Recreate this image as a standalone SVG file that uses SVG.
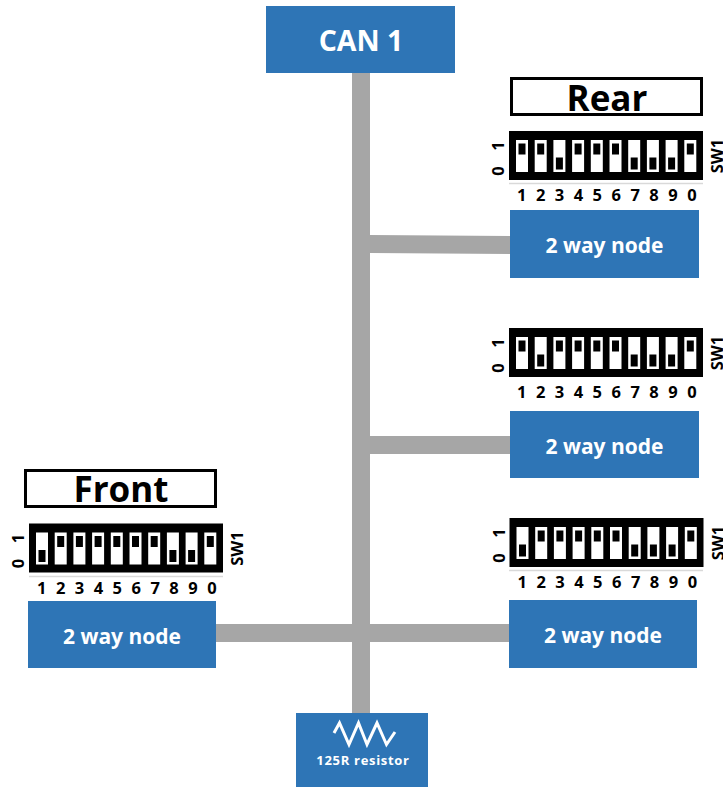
<svg xmlns="http://www.w3.org/2000/svg" xmlns:xlink="http://www.w3.org/1999/xlink" width="723" height="787" viewBox="0 0 723 787">
<style>
text{font-family:"Open Sans","Liberation Sans",sans-serif;font-weight:700;text-anchor:middle}
.node{fill:#2e75b6}
.nt{fill:#fff;font-size:21px}
.big{fill:#fff;font-size:28.5px}
.lab{fill:#fff;stroke:#000;stroke-width:3}
.title{fill:#000;font-size:35px}
.d{fill:#000;font-size:16.5px}
.wire{fill:#a6a6a6}
.rule{stroke:#d9d9d9;stroke-width:1.5}
</style>
<defs>
<g id="dip">
<rect width="194" height="49" fill="#000"/>
<g fill="#fff">
<rect x="7" y="9" width="12" height="32"/><rect x="25.7" y="9" width="12" height="32"/><rect x="44.4" y="9" width="12" height="32"/><rect x="63.1" y="9" width="12" height="32"/><rect x="81.8" y="9" width="12" height="32"/><rect x="100.5" y="9" width="12" height="32"/><rect x="119.2" y="9" width="12" height="32"/><rect x="137.9" y="9" width="12" height="32"/><rect x="156.6" y="9" width="12" height="32"/><rect x="175.3" y="9" width="12" height="32"/>
</g>
<g class="d">
<text x="-11" y="15" transform="rotate(-90 -11 15)" dy="6">1</text>
<text x="-11" y="40" transform="rotate(-90 -11 40)" dy="6">0</text>
<text x="208" y="25" transform="rotate(-90 208 25)" dy="6">SW1</text>
<text x="12.7" y="70">1</text><text x="31.6" y="70">2</text><text x="50.5" y="70">3</text><text x="69.4" y="70">4</text><text x="88.3" y="70">5</text><text x="107.2" y="70">6</text><text x="126.1" y="70">7</text><text x="145" y="70">8</text><text x="163.9" y="70">9</text><text x="183" y="70">0</text>
</g>
</g>
<rect id="u" width="7" height="11" y="12.5" fill="#000"/>
<rect id="l" width="7" height="12" y="26.5" fill="#000"/>
</defs>

<g id="connectors" class="wire">
<rect x="352" y="73" width="18" height="640"/>
<polygon points="370,235 510,236 510,254 370,253"/>
<rect x="370" y="436" width="140" height="18"/>
<rect x="216" y="624" width="293" height="18"/>
</g>

<g id="can1"><rect class="node" x="266" y="6" width="189" height="67"/><text class="big" x="361" y="51">CAN 1</text></g>

<g id="rear-label"><rect class="lab" x="511.5" y="78.5" width="190" height="36"/><text class="title" x="607" y="111">Rear</text></g>
<g id="rear-switch">
<use xlink:href="#dip" href="#dip" x="509" y="131"/>
<line class="rule" x1="509" y1="183.5" x2="703" y2="183.5"/>
<g transform="translate(509 131)">
<use href="#u" x="9.5"/><use href="#u" x="28.2"/><use href="#l" x="46.9"/><use href="#u" x="65.6"/><use href="#u" x="84.3"/><use href="#u" x="103"/><use href="#l" x="121.7"/><use href="#l" x="140.4"/><use href="#l" x="159.1"/><use href="#u" x="177.8"/>
</g>
</g>
<g id="rear-node"><rect class="node" x="510" y="210" width="189" height="68"/><text class="nt" x="604.5" y="253">2 way node</text></g>

<g id="mid-switch">
<use href="#dip" x="509" y="328"/>
<g transform="translate(509 328)">
<use href="#u" x="9.5"/><use href="#l" x="28.2"/><use href="#u" x="46.9"/><use href="#u" x="65.6"/><use href="#u" x="84.3"/><use href="#u" x="103"/><use href="#l" x="121.7"/><use href="#l" x="140.4"/><use href="#l" x="159.1"/><use href="#u" x="177.8"/>
</g>
</g>
<g id="mid-node"><rect class="node" x="510" y="411" width="189" height="67"/><text class="nt" x="604.5" y="454">2 way node</text></g>

<g id="low-switch">
<use href="#dip" x="509.5" y="518"/>
<line class="rule" x1="509" y1="570.5" x2="703" y2="570.5"/>
<g transform="translate(509.5 518)">
<use href="#l" x="9.5"/><use href="#u" x="28.2"/><use href="#u" x="46.9"/><use href="#u" x="65.6"/><use href="#u" x="84.3"/><use href="#u" x="103"/><use href="#l" x="121.7"/><use href="#l" x="140.4"/><use href="#l" x="159.1"/><use href="#u" x="177.8"/>
</g>
</g>
<g id="low-node"><rect class="node" x="509" y="600" width="188" height="68"/><text class="nt" x="603" y="643">2 way node</text></g>

<g id="front-label"><rect class="lab" x="25.5" y="470.5" width="190" height="36"/><text class="title" x="121" y="502">Front</text></g>
<g id="front-switch">
<use href="#dip" x="29" y="523.5"/>
<line class="rule" x1="29" y1="576.5" x2="223" y2="576.5"/>
<g transform="translate(29 523.5)">
<use href="#l" x="9.5"/><use href="#u" x="28.2"/><use href="#u" x="46.9"/><use href="#u" x="65.6"/><use href="#u" x="84.3"/><use href="#u" x="103"/><use href="#u" x="121.7"/><use href="#l" x="140.4"/><use href="#l" x="159.1"/><use href="#u" x="177.8"/>
</g>
</g>
<g id="front-node"><rect class="node" x="28" y="601" width="188" height="67"/><text class="nt" x="122" y="644">2 way node</text></g>

<g id="resistor"><rect class="node" x="296" y="713" width="132" height="74"/>
<polyline points="334,733 339.5,723 349,744.5 358.5,723 367,744.5 377,723 386.5,744.5 395,732" fill="none" stroke="#fff" stroke-width="3"/>
<text x="363" y="765" fill="#fff" font-size="13" letter-spacing="0.7">125R resistor</text></g>
</svg>
